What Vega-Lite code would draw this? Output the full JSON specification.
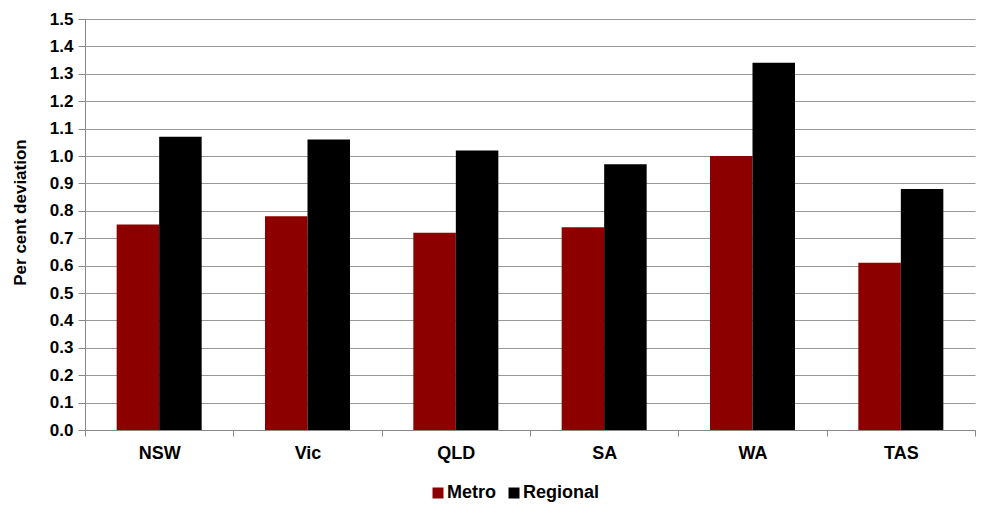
{
  "$schema": "https://vega.github.io/schema/vega-lite/v6.json",
  "width": 890,
  "height": 411,
  "autosize": {"type": "none"},
  "padding": {"left": 85, "top": 19, "right": 9, "bottom": 76},
  "background": "white",
  "data": {
    "values": [
      {"state": "NSW", "area": "Metro", "value": 0.75},
      {"state": "NSW", "area": "Regional", "value": 1.07},
      {"state": "Vic", "area": "Metro", "value": 0.78},
      {"state": "Vic", "area": "Regional", "value": 1.06},
      {"state": "QLD", "area": "Metro", "value": 0.72},
      {"state": "QLD", "area": "Regional", "value": 1.02},
      {"state": "SA", "area": "Metro", "value": 0.74},
      {"state": "SA", "area": "Regional", "value": 0.97},
      {"state": "WA", "area": "Metro", "value": 1.0},
      {"state": "WA", "area": "Regional", "value": 1.34},
      {"state": "TAS", "area": "Metro", "value": 0.61},
      {"state": "TAS", "area": "Regional", "value": 0.88}
    ]
  },
  "mark": {"type": "bar"},
  "encoding": {
    "x": {
      "field": "state",
      "type": "nominal",
      "sort": ["NSW", "Vic", "QLD", "SA", "WA", "TAS"],
      "scale": {"paddingInner": 0, "paddingOuter": 0},
      "axis": {
        "title": null,
        "labelAngle": 0,
        "labelFont": "Liberation Sans",
        "labelFontWeight": "bold",
        "labelFontSize": 18,
        "labelColor": "#000000",
        "labelPadding": 8,
        "tickBand": "extent",
        "tickSize": 6,
        "tickColor": "#888888",
        "domainColor": "#888888",
        "grid": false
      }
    },
    "xOffset": {
      "field": "area",
      "type": "nominal",
      "sort": ["Metro", "Regional"],
      "scale": {"paddingInner": 0, "paddingOuter": 0.745}
    },
    "y": {
      "field": "value",
      "type": "quantitative",
      "scale": {"domain": [0, 1.5], "nice": false},
      "axis": {
        "title": "Per cent deviation",
        "titleFont": "Liberation Sans",
        "titleFontWeight": "bold",
        "titleFontSize": 17,
        "titleColor": "#000000",
        "titlePadding": 20,
        "titleY": 193,
        "values": [0, 0.1, 0.2, 0.3, 0.4, 0.5, 0.6, 0.7, 0.8, 0.9, 1.0, 1.1, 1.2, 1.3, 1.4, 1.5],
        "format": ".1f",
        "labelFont": "Liberation Sans",
        "labelFontWeight": "bold",
        "labelFontSize": 17,
        "labelColor": "#000000",
        "labelPadding": 5,
        "tickSize": 7,
        "tickColor": "#888888",
        "domainColor": "#888888",
        "gridColor": "#999999",
        "gridOpacity": 1
      }
    },
    "color": {
      "field": "area",
      "type": "nominal",
      "sort": ["Metro", "Regional"],
      "scale": {"domain": ["Metro", "Regional"], "range": ["#8C0000", "#000000"]},
      "legend": {
        "title": null,
        "orient": "none",
        "direction": "horizontal",
        "legendX": 344,
        "legendY": 465,
        "symbolType": "square",
        "symbolSize": 121,
        "symbolStrokeWidth": 0,
        "symbolOpacity": 1,
        "labelFont": "Liberation Sans",
        "labelFontWeight": "bold",
        "labelFontSize": 18,
        "labelColor": "#000000",
        "labelOffset": 0,
        "columnPadding": 9
      }
    }
  },
  "config": {
    "view": {"stroke": null}
  }
}
